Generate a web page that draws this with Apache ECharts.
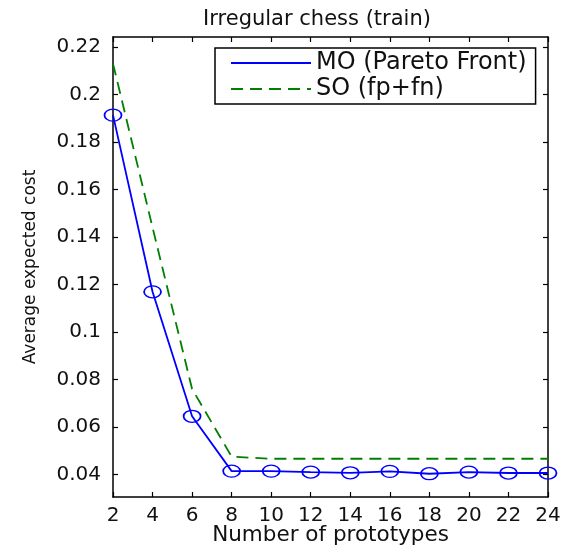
<!DOCTYPE html>
<html>
<head>
<meta charset="utf-8">
<script src="https://cdn.jsdelivr.net/npm/echarts@6/dist/echarts.min.js"></script>
<style>
html,body{margin:0;padding:0;background:#fff;}
#chart{width:563px;height:548px;}
</style>
</head>
<body>
<div id="chart"></div>
<script>
const prototypes = [2, 4, 6, 8, 10, 12, 14, 16, 18, 20, 22, 24];
const moValues = [0.1913, 0.1169, 0.0645, 0.0414, 0.0414, 0.0410, 0.0407, 0.0413, 0.0403, 0.0410, 0.0406, 0.0406];
const soValues = [0.2130, 0.1440, 0.0760, 0.0475, 0.0466, 0.0466, 0.0466, 0.0466, 0.0466, 0.0466, 0.0466, 0.0466];
const yTicks = [0.04, 0.06, 0.08, 0.1, 0.12, 0.14, 0.16, 0.18, 0.2, 0.22];

const FONT = 'DejaVu Sans';
const chart = echarts.init(document.getElementById('chart'), null, {renderer: 'canvas'});

const axisLineStyle = {show: true, lineStyle: {color: '#000', width: 1.5}};
const tickStyle = {show: true, inside: true, length: 5, lineStyle: {color: '#000', width: 1.2}};

chart.setOption({
  animation: false,
  backgroundColor: '#fff',
  title: {
    text: 'Irregular chess (train)',
    left: 312, top: 4, textAlign: 'center',
    textStyle: {fontFamily: FONT, fontSize: 21, fontWeight: 'normal', color: '#111'}
  },
  grid: {left: 113, right: 15, top: 37, bottom: 51, containLabel: false, outerBoundsMode: 'none'},
  legend: {
    orient: 'vertical',
    left: 215, top: 48,
    padding: [3, 9, 3, 15],
    itemGap: 2,
    itemWidth: 80,
    itemHeight: 14,
    borderColor: '#000', borderWidth: 1.5,
    backgroundColor: '#fff',
    itemStyle: {opacity: 0},
    textStyle: {fontFamily: FONT, fontSize: 24, color: '#111'},
    data: ['MO (Pareto Front)', 'SO (fp+fn)']
  },
  xAxis: [{
    type: 'value', min: 2, max: 24, interval: 2,
    name: 'Number of prototypes', nameLocation: 'middle', nameGap: 27, nameMoveOverlap: false,
    nameTextStyle: {fontFamily: FONT, fontSize: 21.5, color: '#111', lineHeight: 22},
    axisLine: axisLineStyle, axisTick: tickStyle,
    axisLabel: {fontFamily: FONT, fontSize: 20, color: '#111', margin: 9},
    splitLine: {show: false}
  }, {
    type: 'value', min: 2, max: 24, interval: 2, position: 'top',
    axisLine: axisLineStyle, axisTick: tickStyle,
    axisLabel: {show: false}, splitLine: {show: false}
  }],
  yAxis: [{
    type: 'value', min: 0.0305, max: 0.2242,
    name: 'Average expected cost', nameLocation: 'middle', nameGap: 74, nameRotate: 90, nameMoveOverlap: false,
    nameTextStyle: {fontFamily: FONT, fontSize: 17, color: '#111'},
    axisLine: axisLineStyle,
    axisTick: Object.assign({customValues: yTicks}, tickStyle),
    axisLabel: {fontFamily: FONT, fontSize: 20, color: '#111', margin: 12,
      customValues: yTicks, formatter: v => String(+(+v).toFixed(2))},
    splitLine: {show: false}
  }, {
    type: 'value', min: 0.0305, max: 0.2242, position: 'right',
    axisLine: axisLineStyle,
    axisTick: Object.assign({customValues: yTicks}, tickStyle),
    axisLabel: {show: false, customValues: yTicks}, splitLine: {show: false}
  }],
  series: [{
    name: 'MO (Pareto Front)',
    type: 'line',
    data: prototypes.map((p, i) => [p, moValues[i]]),
    symbol: 'circle', symbolSize: [17, 12],
    lineStyle: {color: '#0000ff', width: 1.8},
    itemStyle: {color: 'rgba(0,0,0,0)', borderColor: '#0000ff', borderWidth: 1.5},
    z: 3
  }, {
    name: 'SO (fp+fn)',
    type: 'line',
    data: prototypes.map((p, i) => [p, soValues[i]]),
    symbol: 'none',
    lineStyle: {color: '#008000', width: 1.8, type: [12, 7]},
    itemStyle: {color: '#008000'},
    z: 2
  }]
});
</script>
</body>
</html>
